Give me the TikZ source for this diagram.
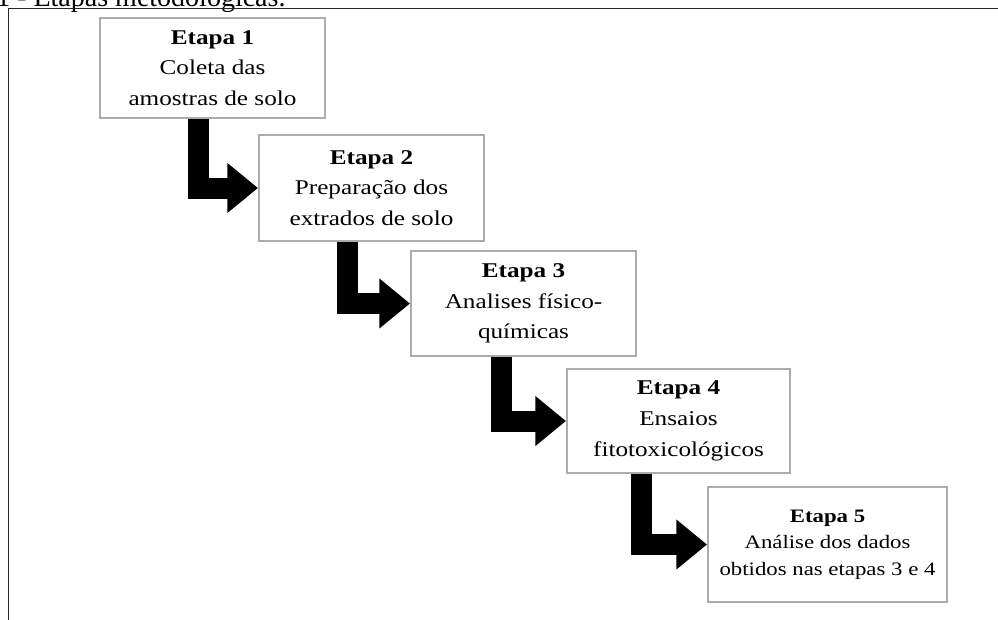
\documentclass[tikz,border=0pt]{standalone}
\usepackage{fontspec}
\setmainfont{Liberation Serif}
\newfontfamily\boxfont[FakeStretch=1.2]{Liberation Serif}
\usetikzlibrary{arrows.meta,calc}
\begin{document}
\begin{tikzpicture}[x=0.75pt,y=-0.75pt,
  stepbox/.style={draw=gray!65, line width=1.5pt, fill=white, align=center, inner sep=0pt},
  bigtxt/.style={font=\boxfont\fontsize{15.75pt}{23pt}\selectfont},
  smalltxt/.style={font=\boxfont\fontsize{14.25pt}{20pt}\selectfont},
  flow/.style={line width=15.75pt, line join=miter, -{Triangle[width=36pt,length=23pt]}}]
\useasboundingbox (0,0) rectangle (998,619);
\clip (0,0) rectangle (998,619);
\node[anchor=base west, font=\fontsize{21pt}{24pt}\selectfont, inner sep=0pt] (title) at (-4,6) {1 - Etapas metodológicas.};
\draw[line width=1.2pt, black!85] (8.5,625) -- (8.5,8.5) -- (1005,8.5);

\node[stepbox, bigtxt, minimum width=168.75pt, minimum height=75pt] (b1) at (212.5,68)
  {\textbf{Etapa 1}\\Coleta das\\amostras de solo};
\node[stepbox, bigtxt, minimum width=168.75pt, minimum height=79.5pt] (b2) at (371.5,188)
  {\textbf{Etapa 2}\\Preparação dos\\extrados de solo};
\node[stepbox, bigtxt, minimum width=168.75pt, minimum height=78.75pt] (b3) at (523.5,303.5)
  {\textbf{Etapa 3}\\Analises físico-\\químicas};
\node[stepbox, bigtxt, minimum width=167.25pt, minimum height=78pt] (b4) at (678.5,421)
  {\textbf{Etapa 4}\\Ensaios\\fitotoxicológicos};
\node[stepbox, smalltxt, minimum width=179.25pt, minimum height=86.25pt] (b5) at (827.5,544.5)
  {\textbf{Etapa 5}\\Análise dos dados\\obtidos nas etapas 3 e 4};

\draw[flow] ($(b1.south west)+(99,0)$) |- (b2.west);
\draw[flow] ($(b2.south west)+(89.5,0)$) |- (b3.west);
\draw[flow] ($(b3.south west)+(91.5,0)$) |- (b4.west);
\draw[flow] ($(b4.south west)+(75,0)$) |- (b5.west);
\end{tikzpicture}
\end{document}
